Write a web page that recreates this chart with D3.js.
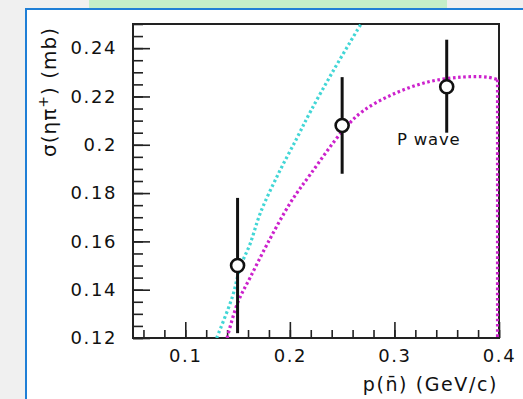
<!DOCTYPE html>
<html>
<head>
<meta charset="utf-8">
<script src="https://cdn.jsdelivr.net/npm/d3@7"></script>
<style>
  body { margin: 0; background: #f0f0f0; }
  svg { display: block; }
  text { font-family: "DejaVu Sans", sans-serif; fill: #111; }
</style>
</head>
<body>
<svg id="chart" width="523" height="399"></svg>
<script>
// measured points with error bars
const ptX = [0.15, 0.25, 0.35];
const ptY = [0.150, 0.208, 0.224];
const ptLo = [0.122, 0.188, 0.205];
const ptHi = [0.178, 0.228, 0.2435];

// cyan curve
const cyanX = [0.130, 0.145, 0.1526, 0.162, 0.172, 0.189, 0.207, 0.220, 0.242, 0.268];
const cyanY = [0.120, 0.137, 0.1494, 0.159, 0.172, 0.188, 0.203, 0.214, 0.231, 0.250];

// magenta curve (P wave)
const magX = [0.140, 0.150, 0.162, 0.1785, 0.2005, 0.220, 0.251, 0.270, 0.299, 0.332, 0.364, 0.389, 0.3985];
const magY = [0.120, 0.1345, 0.145, 0.159, 0.176, 0.188, 0.206, 0.214, 0.221, 0.226, 0.228, 0.228, 0.227];

const xMajor = [0.1, 0.2, 0.3, 0.4];
const xMinor = d3.range(0.06, 0.4001, 0.02);
const yMajor = [0.12, 0.14, 0.16, 0.18, 0.2, 0.22, 0.24];
const yMinor = d3.range(0.12, 0.2501, 0.005);

const svg = d3.select('#chart');

// page decoration
svg.append('rect').attr('x', 89).attr('y', 0).attr('width', 358).attr('height', 13).attr('fill', '#c3efc9');
svg.append('rect').attr('x', 26).attr('y', 9).attr('width', 520).attr('height', 420)
  .attr('fill', '#fff').attr('stroke', '#1f7fd6').attr('stroke-width', 2);

const mLeft = 133, mRight = 499, mTop = 24, mBottom = 338;
const x = d3.scaleLinear().domain([0.05, 0.4]).range([mLeft, mRight]);
const y = d3.scaleLinear().domain([0.12, 0.25]).range([mBottom, mTop]);

svg.append('defs').append('clipPath').attr('id', 'plot')
  .append('rect').attr('x', mLeft).attr('y', mTop).attr('width', mRight - mLeft).attr('height', mBottom - mTop);

// axes
const fmt = d => d3.format('.2~f')(d);
const gy = svg.append('g').attr('transform', `translate(${mLeft},0)`);
gy.call(d3.axisLeft(y).tickValues(yMinor).tickSize(-10).tickFormat(''));
gy.append('g').call(d3.axisLeft(y).tickValues(yMajor).tickSize(-17).tickPadding(16).tickFormat(fmt));

const gx = svg.append('g').attr('transform', `translate(0,${mBottom})`);
gx.call(d3.axisBottom(x).tickValues(xMinor).tickSize(-8).tickFormat(''));
gx.append('g').call(d3.axisBottom(x).tickValues(xMajor).tickSize(-16).tickPadding(11).tickFormat(fmt));

svg.selectAll('.domain').remove();
svg.selectAll('.tick line').attr('stroke', '#222').attr('stroke-width', 1.6);
svg.selectAll('.tick text').attr('font-size', 18).attr('letter-spacing', 1.6)
  .attr('font-family', '"DejaVu Sans", sans-serif').attr('fill', '#111');

// frame
svg.append('rect').attr('x', mLeft).attr('y', mTop).attr('width', mRight - mLeft).attr('height', mBottom - mTop)
  .attr('fill', 'none').attr('stroke', '#222').attr('stroke-width', 2);

// curves
const line = d3.line().x(d => x(d[0])).y(d => y(d[1])).curve(d3.curveCatmullRom);
const plot = svg.append('g').attr('clip-path', 'url(#plot)');

plot.append('path').datum(d3.zip(cyanX, cyanY)).attr('d', line)
  .attr('fill', 'none').attr('stroke', '#42d6d6').attr('stroke-width', 3.2).attr('stroke-dasharray', '2.6 2.6');

const lastM = magX.length - 1;
plot.append('path').datum(d3.zip(magX, magY)).attr('d', line)
  .attr('fill', 'none').attr('stroke', '#cc22cc').attr('stroke-width', 3.2).attr('stroke-dasharray', '2.6 2.6');
plot.append('line')
  .attr('x1', x(magX[lastM])).attr('x2', x(magX[lastM]))
  .attr('y1', y(magY[lastM])).attr('y2', y(0.12))
  .attr('stroke', '#cc22cc').attr('stroke-width', 3).attr('stroke-dasharray', '2.6 2.6');

// points
const pts = ptX.map((v, i) => ({ x: v, y: ptY[i], lo: ptLo[i], hi: ptHi[i] }));
svg.append('g').selectAll('line').data(pts).join('line')
  .attr('x1', d => x(d.x)).attr('x2', d => x(d.x))
  .attr('y1', d => y(d.lo)).attr('y2', d => y(d.hi))
  .attr('stroke', '#111').attr('stroke-width', 3);
svg.append('g').selectAll('circle').data(pts).join('circle')
  .attr('cx', d => x(d.x)).attr('cy', d => y(d.y)).attr('r', 6.5)
  .attr('fill', '#fff').attr('stroke', '#111').attr('stroke-width', 2.6);

// labels
svg.append('text').attr('x', 397).attr('y', 145).attr('font-size', 16.5).attr('letter-spacing', 0.8).text('P wave');

svg.append('text').attr('x', 498).attr('y', 391).attr('text-anchor', 'end')
  .attr('font-size', 19).attr('letter-spacing', 1.6).text('p(n̄) (GeV/c)');

svg.append('text').attr('transform', 'translate(56,27) rotate(-90)').attr('text-anchor', 'end')
  .attr('font-size', 20).attr('letter-spacing', 1)
  .html('σ(ηπ<tspan dy="-8" font-size="14">+</tspan><tspan dy="8">) (mb)</tspan>');
</script>
</body>
</html>
